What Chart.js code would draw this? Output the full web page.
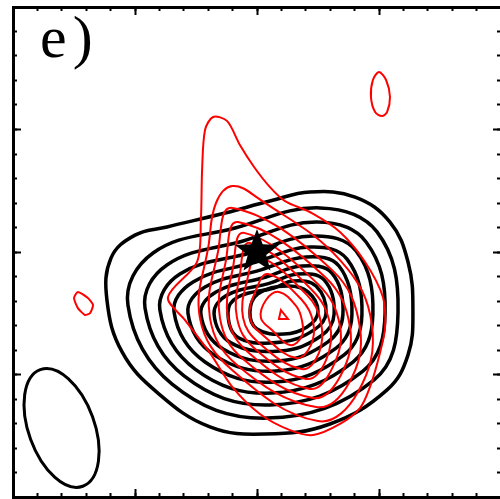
<!DOCTYPE html>
<html>
<head>
<meta charset="utf-8">
<script src="https://cdn.jsdelivr.net/npm/chart.js@4/dist/chart.umd.min.js"></script>
<style>
  html, body { margin: 0; padding: 0; background: #fff; overflow: hidden; }
  #wrap { position: relative; width: 500px; height: 499px; overflow: hidden; }
  #map { display: block; }
  #panel { position: absolute; left: 40px; top: 7px; font-family: 'Liberation Serif', 'DejaVu Serif', serif;
           font-size: 60px; line-height: 60px; letter-spacing: 6px; color: #000; }
</style>
</head>
<body>
<div id="wrap">
  <canvas id="map" width="502" height="499"></canvas>
  <div id="panel">e)</div>
</div>
<script>
// offsets in arcsec from the star position, both axes
const axisRange = [-10, 10];
const majorStep = 5;
const minorStep = 1;

// black contours (outermost first), [x, y]
const black0 = [[-6.15,-1.96],[-5.98,-0.24],[-5.00,0.69],[-3.69,1.02],[-1.31,1.59],[0.53,2.08],[2.17,2.45],[4.02,2.24],[5.45,1.22],[6.19,-0.41],[6.39,-2.37],[6.19,-4.20],[5.33,-5.63],[2.99,-7.02],[0.33,-7.43],[-1.93,-7.14],[-4.06,-5.76],[-5.53,-4.08]];
const black1 = [[-5.29,-2.16],[-4.26,-0.04],[-0.90,0.98],[2.58,1.80],[4.92,0.82],[5.78,-2.45],[4.80,-5.22],[0.41,-6.78],[-3.48,-5.39]];
const black2 = [[-4.59,-2.29],[-3.69,-0.53],[-0.57,0.45],[2.46,1.22],[4.47,0.41],[5.25,-2.49],[4.34,-4.86],[0.53,-6.24],[-2.99,-5.06]];
const black3 = [[-3.98,-2.37],[-3.16,-0.90],[-0.29,-0.04],[2.30,0.65],[4.06,0.04],[4.75,-2.53],[3.93,-4.49],[0.61,-5.76],[-2.54,-4.78]];
const black4 = [[-3.40,-2.45],[-2.62,-1.22],[-0.04,-0.41],[2.17,0.20],[3.69,-0.29],[4.30,-2.57],[3.57,-4.20],[0.70,-5.31],[-2.13,-4.49]];
const black5 = [[-2.83,-2.49],[-2.13,-1.43],[0.16,-0.73],[2.01,-0.20],[3.36,-0.57],[3.89,-2.57],[3.24,-3.92],[0.78,-4.86],[-1.76,-4.20]];
const black6 = [[-2.30,-2.53],[-1.68,-1.63],[0.37,-1.02],[1.84,-0.57],[3.07,-0.86],[3.52,-2.57],[2.91,-3.67],[0.86,-4.45],[-1.39,-3.96]];
const black7 = [[-1.76,-2.53],[-1.23,-1.76],[0.53,-1.27],[1.68,-0.90],[2.75,-1.14],[3.16,-2.53],[2.62,-3.43],[0.94,-4.04],[-1.07,-3.71]];
const black8 = [[-1.19,-2.49],[-0.78,-1.84],[0.70,-1.47],[1.48,-1.18],[2.42,-1.39],[2.83,-2.49],[2.34,-3.18],[1.02,-3.67],[-0.74,-3.51]];
const black9 = [[-0.29,-2.45],[0.04,-1.71],[1.23,-1.39],[2.09,-1.63],[2.50,-2.45],[2.05,-3.06],[1.11,-3.35],[0.00,-3.14]];

// red contours (outermost first), [x, y]
const red0 = [[-1.80,5.51],[-1.23,5.35],[-0.70,4.37],[-0.12,3.47],[0.53,2.65],[1.15,2.08],[2.25,1.59],[3.40,0.82],[4.43,-0.41],[5.16,-1.84],[5.25,-3.06],[5.04,-4.12],[4.63,-5.51],[4.22,-6.37],[3.40,-7.02],[2.30,-7.47],[1.35,-7.27],[0.12,-6.61],[-0.98,-5.55],[-1.93,-4.12],[-2.95,-2.78],[-3.65,-1.84],[-2.46,-0.41],[-2.30,1.31],[-2.25,3.35],[-2.13,4.98]];
const red1 = [[-1.02,2.69],[0.04,2.20],[3.44,-0.37],[4.71,-2.98],[4.14,-5.71],[2.50,-6.90],[-1.02,-4.82],[-2.34,-2.69],[-1.97,0.37],[-1.68,2.00]];
const red2 = [[-1.02,1.80],[3.07,-0.73],[4.22,-3.10],[3.77,-5.35],[2.42,-6.33],[-0.82,-4.61],[-1.93,-2.69],[-1.60,0.00]];
const red3 = [[-0.78,1.22],[2.79,-1.02],[3.81,-3.06],[3.44,-5.02],[2.30,-5.96],[-0.57,-4.37],[-1.52,-2.69],[-1.27,-0.33]];
const red4 = [[-0.53,0.78],[2.50,-1.31],[3.40,-3.02],[3.11,-4.69],[2.17,-5.59],[-0.33,-4.12],[-1.19,-2.69],[-0.98,-0.61]];
const red5 = [[-0.29,0.37],[2.25,-1.55],[2.99,-2.94],[2.83,-4.41],[2.01,-5.18],[-0.12,-3.92],[-0.82,-2.69],[-0.70,-0.90]];
const red6 = [[0.04,-0.20],[2.05,-1.76],[2.62,-2.86],[2.54,-4.12],[1.84,-4.78],[0.08,-3.71],[-0.57,-2.69],[-0.41,-1.18]];
const red7 = [[0.45,-0.90],[1.84,-1.96],[2.30,-2.86],[2.21,-3.80],[1.60,-4.33],[0.33,-3.47],[-0.29,-2.69],[-0.04,-1.55]];
const red8 = [[0.90,-1.63],[1.60,-2.20],[1.84,-2.78],[1.84,-3.43],[1.35,-3.80],[0.61,-3.18],[0.16,-2.69],[0.37,-1.96]];
const redPeak = [[0.98,-2.37],[1.27,-2.73],[0.90,-2.73]];
const redIslandWest = [[-7.34,-1.63],[-6.93,-1.88],[-6.72,-2.16],[-6.84,-2.49],[-7.05,-2.57],[-7.34,-2.29],[-7.50,-1.88]];
const redIslandNorth = [[5.00,7.35],[5.29,7.02],[5.45,6.33],[5.33,5.71],[5.12,5.55],[4.84,5.71],[4.67,6.33],[4.75,7.02]];

// source position and beam (axis ends of the beam ellipse)
const starPosition = [[0, 0]];
const beamEllipse = [[-8.88,-4.80],[-6.74,-6.72],[-7.14,-9.56],[-9.28,-7.64]];

const blackContours = [black0, black1, black2, black3, black4, black5, black6, black7, black8, black9];
const redContours = [red0, red1, red2, red3, red4, red5, red6, red7, red8];

const toPoints = arr => arr.map(([x, y]) => ({ x, y }));

function contour(points, color, width, tension, order) {
    return {
        data: toPoints(points),
        borderColor: color,
        borderWidth: width,
        tension: tension,
        pointRadius: 0,
        pointHitRadius: 0,
        fill: false,
        closed: true,
        order: order
    };
}

// filled star marker used as point style
function makeStar(r) {
    const c = document.createElement('canvas');
    c.width = c.height = Math.ceil(r * 2 + 2);
    const g = c.getContext('2d');
    g.translate(c.width / 2, c.height / 2);
    g.beginPath();
    for (let i = 0; i < 10; i++) {
        const rad = i % 2 ? r * 0.42 : r;
        const a = -Math.PI / 2 + i * Math.PI / 5;
        g.lineTo(rad * Math.cos(a), rad * Math.sin(a));
    }
    g.closePath();
    g.fillStyle = '#000';
    g.fill();
    return c;
}

// make contour lines closed, smooth loops
const closeLoops = {
    id: 'closeLoops',
    afterDatasetUpdate(chart, args) {
        const line = args.meta.dataset;
        if (line && chart.data.datasets[args.index].closed) {
            line._loop = true;
            line._fullLoop = true;
        }
    }
};

function tickScale(axis, position, step, len, withBorder) {
    return {
        type: 'linear',
        axis: axis,
        position: position,
        min: axisRange[0],
        max: axisRange[1],
        ticks: { display: false, stepSize: step },
        grid: { drawOnChartArea: false, drawTicks: true, tickLength: -len, tickWidth: 2, tickColor: '#000' },
        border: { display: withBorder, width: 3, color: '#000' },
        afterFit: s => { if (s.isHorizontal()) s.height = 0; else s.width = 0; }
    };
}

const datasets = [];
blackContours.forEach(c => datasets.push(contour(c, '#000', 3.5, 0.4, 2)));
redContours.forEach((c, i) => datasets.push(contour(c, '#ff0000', 2, i === 0 ? 0.3 : 0.4, 1)));
datasets.push(contour(redPeak, '#ff0000', 2, 0, 1));
datasets.push(contour(redIslandWest, '#ff0000', 2, 0.2, 1));
datasets.push(contour(redIslandNorth, '#ff0000', 2, 0.3, 1));
datasets.push(contour(beamEllipse, '#000', 3, 0.55, 2));
datasets.push({
    data: toPoints(starPosition),
    showLine: false,
    pointStyle: makeStar(23),
    pointRadius: 10,
    order: 0
});

new Chart(document.getElementById('map'), {
    type: 'line',
    data: { datasets: datasets },
    plugins: [closeLoops],
    options: {
        responsive: false,
        animation: false,
        devicePixelRatio: 1,
        events: [],
        layout: { autoPadding: false, padding: { left: 13, top: 7, right: 1, bottom: 2 } },
        plugins: { legend: { display: false }, tooltip: { enabled: false } },
        scales: {
            x: tickScale('x', 'bottom', majorStep, 8, true),
            xMinor: tickScale('x', 'bottom', minorStep, 4, false),
            xTop: tickScale('x', 'top', majorStep, 8, true),
            xTopMinor: tickScale('x', 'top', minorStep, 4, false),
            y: tickScale('y', 'left', majorStep, 8, true),
            yMinor: tickScale('y', 'left', minorStep, 4, false),
            yRight: tickScale('y', 'right', majorStep, 8, true),
            yRightMinor: tickScale('y', 'right', minorStep, 4, false)
        }
    }
});
</script>
</body>
</html>
